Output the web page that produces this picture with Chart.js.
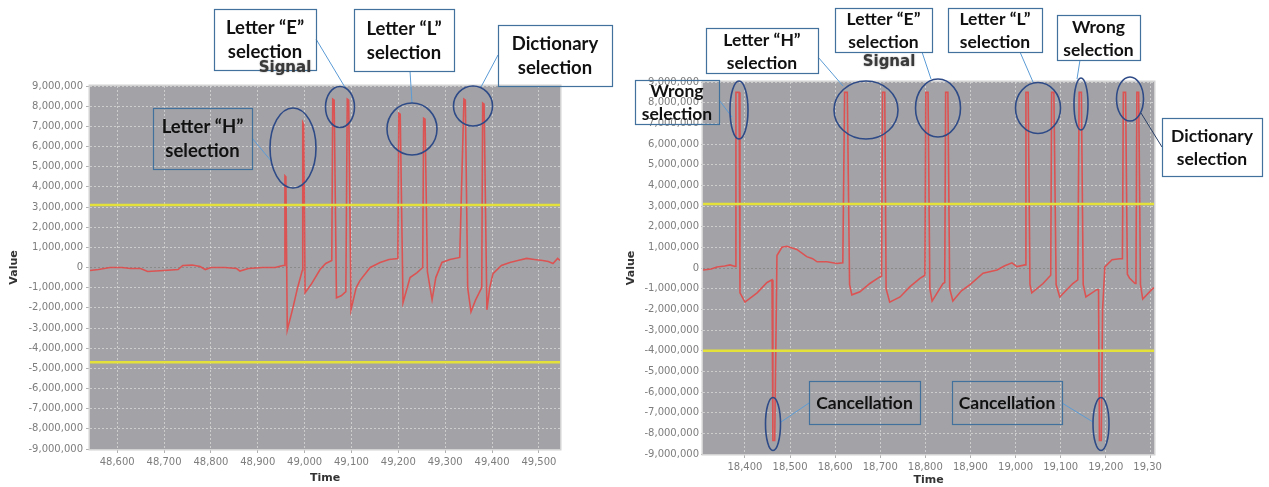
<!DOCTYPE html>
<html><head><meta charset="utf-8">
<script src="https://cdn.jsdelivr.net/npm/chart.js@4.4.0/dist/chart.umd.min.js"></script>
<style>
html,body{margin:0;padding:0;background:#fff;width:1269px;height:487px;overflow:hidden}
canvas{position:absolute;top:0}
#c1{left:0}
#c2{left:615px}
</style></head>
<body>
<canvas id="c1" width="615" height="487"></canvas>
<canvas id="c2" width="654" height="487"></canvas>
<script>
// ---------- DATA ----------
const leftTime = [
  48542,48560,48585,48610,48628,48650,48665,48700,48730,48740,48760,48777,48788,48800,48830,48855,48862,48880,48910,48937,48954,
  48957,48958,48960,48963,48975,48985,48995,
  48996,48998,49001,49015,49033,49045,49058,
  49060,49063,49068,49078,49088,
  49091,49094,49099,49110,49118,49140,49161,49180,49199,
  49201,49204,49210,49225,49240,49252,
  49254,49257,49262,49272,49280,49293,49310,49331,
  49340,49343,49348,49355,49365,49378,
  49380,49383,49389,49395,49402,49420,49438,49455,49474,49490,49508,49520,49530,49540,49545
];
const leftValue = [
  -150000,-100000,0,0,-50000,-50000,-200000,-150000,-100000,100000,120000,50000,-100000,0,0,-50000,-180000,-50000,0,0,100000,
  100000,4550000,4500000,-3100000,-2000000,-1000000,-150000,
  7200000,7100000,-1250000,-800000,-100000,200000,350000,
  8350000,8300000,-1500000,-1400000,-1200000,
  8350000,8300000,-2100000,-1000000,-650000,0,250000,400000,450000,
  7650000,7600000,-1750000,-500000,-250000,0,
  7400000,7350000,-200000,-1600000,-500000,250000,400000,500000,
  8350000,8300000,-1000000,-2200000,-1600000,-1000000,
  8150000,8100000,-2100000,-1000000,-300000,100000,250000,350000,450000,400000,350000,300000,200000,450000,350000
];
const rightTime = [
  18307,18325,18338,18355,18367,18375,18378,
  18380,18387,18389,18400,18427,18449,18460,
  18462,18466,18471,18482,18493,18515,18537,18550,18560,18582,18604,18617,
  18621,18627,18632,18637,18655,18677,18699,18703,
  18705,18710,18713,18721,18744,18766,18788,18799,
  18801,18806,18810,18815,18839,18843,
  18845,18850,18854,18861,18880,18899,18928,18959,18975,18992,19003,19021,
  19023,19028,19032,19036,19061,19078,
  19080,19085,19090,19098,19127,19138,
  19141,19146,19150,19156,19180,19184,
  19186,19190,19193,19198,19214,19231,19237,
  19239,19244,19248,19253,19265,19267,
  19269,19273,19277,19282,19304,19307
];
const rightValue = [
  -100000,-50000,50000,100000,150000,100000,80000,
  8500000,8500000,-1200000,-1650000,-1200000,-700000,-570000,
  -8350000,-8350000,600000,1000000,1050000,900000,550000,450000,300000,300000,220000,250000,
  8500000,8500000,-800000,-1300000,-1150000,-750000,-430000,-400000,
  8500000,8500000,-1000000,-1650000,-1400000,-900000,-500000,-350000,
  8500000,8500000,-1000000,-1600000,-750000,-700000,
  8500000,8500000,-1000000,-1600000,-1100000,-800000,-250000,-100000,100000,250000,70000,150000,
  8500000,8500000,-800000,-1200000,-750000,-350000,
  8500000,8500000,-800000,-1400000,-750000,-570000,
  8500000,8500000,-800000,-1400000,-1050000,-1050000,
  -8350000,-8350000,-2000000,50000,400000,450000,450000,
  8500000,8500000,-300000,-500000,-750000,-700000,
  8500000,8500000,-800000,-1500000,-1000000,-950000
];
const leftThresholds = [3100000, -4700000];
const rightThresholds = [3100000, -4000000];
const leftXRange = [48542, 49545];
const rightXRange = [18307, 19307];
const leftXTicks = [48600,48700,48800,48900,49000,49100,49200,49300,49400,49500];
const rightXTicks = [18400,18500,18600,18700,18800,18900,19000,19100,19200,19300];
const yTicks = [-9000000,-8000000,-7000000,-6000000,-5000000,-4000000,-3000000,-2000000,-1000000,0,
  1000000,2000000,3000000,4000000,5000000,6000000,7000000,8000000,9000000];
const chartTitle = 'Signal';
const xTitle = 'Time';
const yTitle = 'Value';

// ---------- ANNOTATIONS (page coordinates) ----------
const leftNotes = {
  boxes: [
    {r:[153,108,252,169], t:['Letter \u201cH\u201d','selection']},
    {r:[214,9,316,70], t:['Letter \u201cE\u201d','selection']},
    {r:[354,9,454,71], t:['Letter \u201cL\u201d','selection']},
    {r:[498,25,612,86], t:['Dictionary','selection']}
  ],
  ellipses: [[293,148,23,40],[340,107,14.5,20.5],[412,129,25,26],[473,106,19.5,20]],
  leaders: [[252,138,272,162,'#5b9bd5'],[316,39,346,89,'#5b9bd5'],[410,71,412,103,'#5b9bd5'],[498,55,481,87,'#5b9bd5']],
  title:[285,68], size:18.5, gap:24
};
const rightNotes = {
  boxes: [
    {r:[635,80,719,124], t:['Wrong','selection']},
    {r:[706,28,818,73], t:['Letter \u201cH\u201d','selection']},
    {r:[835,8,932,52], t:['Letter \u201cE\u201d','selection']},
    {r:[948,8,1042,52], t:['Letter \u201cL\u201d','selection']},
    {r:[1057,15,1140,60], t:['Wrong','selection']},
    {r:[1162,118,1262,176], t:['Dictionary','selection']},
    {r:[809,381,920,424], t:['Cancellation']},
    {r:[952,381,1062,424], t:['Cancellation']}
  ],
  ellipses: [[739,110,9,29],[866,110,32,29],[938,108,22.5,29],[1038,108,22.5,25.5],[1081,104,7,26],[1130,99,13.5,22],[773,424,7.5,26.5],[1101,424,8,26.5]],
  leaders: [[719,100,732,117,'#5b9bd5'],[818,57,843,86,'#5b9bd5'],[922,52,931,79,'#5b9bd5'],[1020,52,1033,82,'#5b9bd5'],
            [1080,60,1077,79,'#5b9bd5'],[1141,113,1162,147,'#2a3f66'],[809,403,781,422,'#5b9bd5'],[1062,403,1093,422,'#5b9bd5']],
  title:[889,62], size:17.5, gap:23, crop:[1162,457,1269,487]
};

const fmt = v => Number(v).toLocaleString('en-US');

function decoPlugin(notes, offX){
  return {
    id:'deco',
    beforeDraw(chart){
      const {ctx, chartArea:a} = chart;
      ctx.save();
      ctx.fillStyle = '#a3a3a7';
      ctx.fillRect(a.left, a.top, a.right-a.left, a.bottom-a.top);
      ctx.restore();
    },
    afterDraw(chart){
      const {ctx, chartArea:a} = chart;
      ctx.save();
      ctx.strokeStyle = '#d2d2d2';
      ctx.lineWidth = 1.5;
      ctx.strokeRect(a.left-0.75, a.top-0.75, a.right-a.left+1.5, a.bottom-a.top+1.5);
      if (notes.crop){
        const c = notes.crop;
        ctx.fillStyle = '#fff';
        ctx.fillRect(c[0]-offX, c[1], c[2]-c[0], c[3]-c[1]);
      }
      notes.leaders.forEach(l=>{
        ctx.strokeStyle = l[4]; ctx.lineWidth = 1;
        ctx.beginPath(); ctx.moveTo(l[0]-offX,l[1]); ctx.lineTo(l[2]-offX,l[3]); ctx.stroke();
      });
      ctx.strokeStyle = '#2e4a87'; ctx.lineWidth = 1.6;
      notes.ellipses.forEach(e=>{
        ctx.beginPath(); ctx.ellipse(e[0]-offX,e[1],e[2],e[3],0,0,Math.PI*2); ctx.stroke();
      });
      notes.boxes.forEach(b=>{
        const [x1,y1,x2,y2] = b.r;
        ctx.strokeStyle = '#41719c'; ctx.lineWidth = 1.2;
        ctx.strokeRect(x1-offX+0.5, y1+0.5, x2-x1, y2-y1);
        ctx.fillStyle = '#111';
        ctx.font = 'bold '+notes.size+'px Lato';
        ctx.textAlign = 'center'; ctx.textBaseline = 'middle';
        const cx = (x1+x2)/2-offX, cy = (y1+y2)/2;
        const n = b.t.length;
        b.t.forEach((s,i)=>{
          ctx.fillText(s, cx, cy + (i-(n-1)/2)*notes.gap + 1);
        });
      });
      ctx.fillStyle = '#3a3a3a';
      ctx.font = 'bold 15px "DejaVu Sans"';
      ctx.textAlign = 'center'; ctx.textBaseline = 'middle';
      ctx.shadowColor = 'rgba(60,60,60,0.6)'; ctx.shadowBlur = 1.5;
      ctx.fillText(chartTitle, notes.title[0]-offX, notes.title[1]);
      ctx.restore();
    }
  };
}

function makeChart(id, times, values, thresholds, xRange, xTicks, notes, offX, yWidth, xHeight, pad, yTitlePad, xTitlePad, tickPadY, tickLenY){
  const signal = times.map((t,i)=>({x:t, y:values[i]}));
  const thr = thresholds.map(v=>({
    data:[{x:xRange[0],y:v},{x:xRange[1],y:v}],
    borderColor:'#e4e23a', borderWidth:2.5, pointRadius:0, order:0
  }));
  return new Chart(document.getElementById(id), {
    type:'line',
    data:{datasets:[
      ...thr,
      {data:signal, borderColor:'rgba(228,72,72,0.88)', borderWidth:1.6, pointRadius:0, tension:0, order:1}
    ]},
    options:{
      responsive:false, animation:false, devicePixelRatio:1,
      layout:{padding:pad},
      plugins:{legend:{display:false}, tooltip:{enabled:false}, title:{display:false}},
      scales:{
        x:{type:'linear', min:xRange[0], max:xRange[1],
          afterBuildTicks:s=>{s.ticks = xTicks.map(v=>({value:v}));},
          afterFit:s=>{s.height = xHeight;},
          ticks:{callback:v=>fmt(v), color:'#7d7d7d', font:{size:10, family:'DejaVu Sans'}, padding:3, maxRotation:0, autoSkip:false},
          grid:{color:'rgba(222,222,222,0.7)', lineWidth:1, drawTicks:true, tickLength:4, tickColor:'#b0b0b0'},
          border:{display:false, dash:[2,2]},
          title:{display:true, text:xTitle, color:'#333', font:{size:11, weight:'bold', family:'DejaVu Sans'}, padding:{top:0, bottom:xTitlePad}}
        },
        y:{type:'linear', min:-9000000, max:9000000,
          afterBuildTicks:s=>{s.ticks = yTicks.map(v=>({value:v}));},
          afterFit:s=>{s.width = yWidth;},
          ticks:{callback:v=>fmt(v), color:'#7d7d7d', font:{size:10, family:'DejaVu Sans'}, padding:tickPadY, autoSkip:false},
          grid:{color:c=> (c.tick && c.tick.value===0) ? '#8a8a8a' : 'rgba(222,222,222,0.7)', lineWidth:1, drawTicks:true, tickLength:tickLenY, tickColor:'#b0b0b0'},
          border:{display:false, dash:[2,2]},
          title:{display:true, text:yTitle, color:'#333', font:{size:11, weight:'bold', family:'DejaVu Sans'}, padding:{top:yTitlePad, bottom:0}}
        }
      }
    },
    plugins:[decoPlugin(notes, offX)]
  });
}

makeChart('c1', leftTime, leftValue, leftThresholds, leftXRange, leftXTicks, leftNotes, 0, 90, 38, {left:0, top:86, right:55, bottom:0}, 8, 2, 3, 4);
makeChart('c2', rightTime, rightValue, rightThresholds, rightXRange, rightXTicks, rightNotes, 615, 88, 33, {left:0, top:82, right:115, bottom:0}, 10, 0, 2, 2);
</script>
</body></html>
